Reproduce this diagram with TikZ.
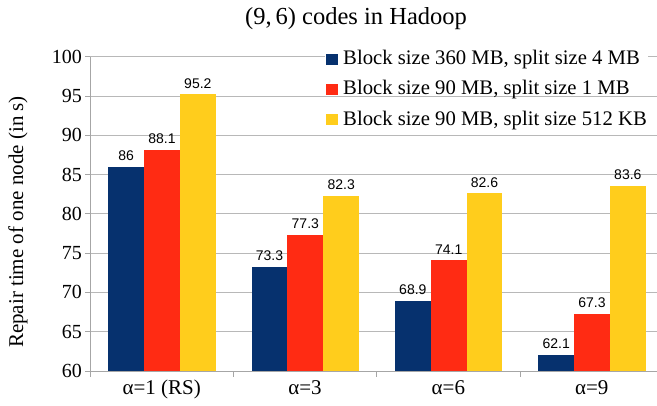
\documentclass[tikz,border=0pt]{standalone}
\usepackage{fontspec}
\setmainfont{Liberation Serif}
\newfontfamily\valfont{Liberation Sans}
\usepackage{tikz}
\definecolor{barblue}{HTML}{06316E}
\definecolor{barred}{HTML}{FF2B13}
\definecolor{baryellow}{HTML}{FFCD1C}
\tikzset{
  gridline/.style={draw=black!28,line width=0.8pt},
  axisline/.style={draw=black!35,line width=0.8pt},
  ytick/.style={anchor=east,inner sep=0pt,font=\fontsize{20}{20}\selectfont},
  xlab/.style={anchor=base,inner sep=0pt,font=\fontsize{21}{21}\selectfont},
  val/.style={anchor=south,inner sep=0pt,yshift=6pt,font=\valfont\fontsize{14}{14}\selectfont},
  legtext/.style={anchor=base west,inner sep=0pt,font=\fontsize{20.7pt}{21pt}\selectfont},
  titletext/.style={font=\fontsize{24.5pt}{25pt}\selectfont},
}

\begin{document}
\begin{tikzpicture}[x=1pt,y=1pt]
    \useasboundingbox (0,0) rectangle (657,405);
    \node[titletext] (title) at (356,386) {(9,\,6) codes in Hadoop};
    \node[rotate=90,font=\fontsize{21}{21}\selectfont] (ylab) at (18,183) {Repair time of one node (in s)};
    \begin{scope}[shift={(0pt,-437.42pt)},y=7.857pt]
        \draw[gridline] (90,65)--(657,65);
        \draw[gridline] (90,70)--(657,70);
        \draw[gridline] (90,75)--(657,75);
        \draw[gridline] (90,80)--(657,80);
        \draw[gridline] (90,85)--(657,85);
        \draw[gridline] (90,90)--(657,90);
        \draw[gridline] (90,95)--(657,95);
        \draw[gridline] (90,100)--(325,100);
        \draw[gridline] (648,100)--(657,100);
        \draw[axisline] (90,100)--(90,59.2);
        \draw[axisline] (85,60)--(657,60);
        \draw[axisline] (85,65)--(90,65);
        \draw[axisline] (85,70)--(90,70);
        \draw[axisline] (85,75)--(90,75);
        \draw[axisline] (85,80)--(90,80);
        \draw[axisline] (85,85)--(90,85);
        \draw[axisline] (85,90)--(90,90);
        \draw[axisline] (85,95)--(90,95);
        \draw[axisline] (85,100)--(90,100);
        \draw[axisline] (233.33,60)--(233.33,59.2);
        \draw[axisline] (376.67,60)--(376.67,59.2);
        \draw[axisline] (520,60)--(520,59.2);
        \node[ytick] (t60) at (82,60) {60};
        \node[ytick] (t65) at (82,65) {65};
        \node[ytick] (t70) at (82,70) {70};
        \node[ytick] (t75) at (82,75) {75};
        \node[ytick] (t80) at (82,80) {80};
        \node[ytick] (t85) at (82,85) {85};
        \node[ytick] (t90) at (82,90) {90};
        \node[ytick] (t95) at (82,95) {95};
        \node[ytick] (t100) at (82,100) {100};
        % alpha = 1 (RS)
        \fill[barblue] (108.25,60) rectangle (144.08,86);
        \fill[barred] (144.08,60) rectangle (179.92,88.1);
        \fill[baryellow] (179.92,60) rectangle (215.75,95.2);
        \node[val] (v11) at (126.17,86) {86};
        \node[val] (v12) at (162,88.1) {88.1};
        \node[val] (v13) at (197.84,95.2) {95.2};
        % alpha = 3
        \fill[barblue] (251.58,60) rectangle (287.41,73.3);
        \fill[barred] (287.41,60) rectangle (323.25,77.3);
        \fill[baryellow] (323.25,60) rectangle (359.08,82.3);
        \node[val] (v21) at (269.5,73.3) {73.3};
        \node[val] (v22) at (305.33,77.3) {77.3};
        \node[val] (v23) at (341.17,82.3) {82.3};
        % alpha = 6
        \fill[barblue] (394.92,60) rectangle (430.75,68.9);
        \fill[barred] (430.75,60) rectangle (466.59,74.1);
        \fill[baryellow] (466.59,60) rectangle (502.42,82.6);
        \node[val] (v31) at (412.84,68.9) {68.9};
        \node[val] (v32) at (448.67,74.1) {74.1};
        \node[val] (v33) at (484.5,82.6) {82.6};
        % alpha = 9
        \fill[barblue] (538.25,60) rectangle (574.08,62.1);
        \fill[barred] (574.08,60) rectangle (609.92,67.3);
        \fill[baryellow] (609.92,60) rectangle (645.75,83.6);
        \node[val] (v41) at (556.17,62.1) {62.1};
        \node[val] (v42) at (592,67.3) {67.3};
        \node[val] (v43) at (627.84,83.6) {83.6};
    \end{scope}
    \node[xlab] (c1) at (161.67,11) {α=1 (RS)};
    \node[xlab] (c2) at (305,11) {α=3};
    \node[xlab] (c3) at (448.33,11) {α=6};
    \node[xlab] (c4) at (591.67,11) {α=9};
    % legend
    \fill[barblue] (326,340) rectangle ++(12,11);
    \fill[barred] (326,310) rectangle ++(12,11);
    \fill[baryellow] (326,279.5) rectangle ++(12,11);
    \node[legtext] (l1) at (343,340) {Block size 360 MB, split size 4 MB};
    \node[legtext] (l2) at (343,310) {Block size 90 MB, split size 1 MB};
    \node[legtext] (l3) at (343,279.5) {Block size 90 MB, split size 512 KB};
\end{tikzpicture}
\end{document}
